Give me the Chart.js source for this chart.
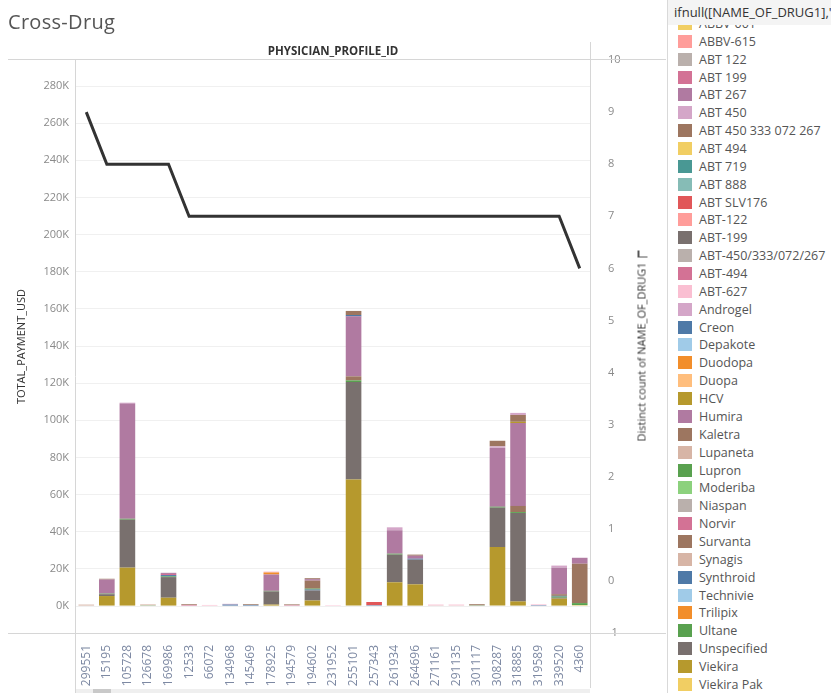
<!DOCTYPE html>
<html>
<head>
<meta charset="utf-8">
<script src="https://cdn.jsdelivr.net/npm/chart.js@4.4.0/dist/chart.umd.min.js"></script>
<style>
  body { margin: 0; background: #fff; font-family: "Open Sans", sans-serif; }
  #wrap { position: relative; width: 831px; height: 693px; overflow: hidden; }
  #title { position: absolute; left: 8px; top: 8px; font-size: 20px; color: #555; letter-spacing: 0.3px; }
  #header { position: absolute; left: 0; top: 43px; width: 666px; text-align: center;
            font-size: 11.5px; font-weight: bold; color: #333; }
  #chartBox { position: absolute; left: 0; top: 0; width: 666px; height: 693px; }
  #rightTitle { position: absolute; left: 641px; top: 346px; transform: translate(-50%, -50%) rotate(-90deg);
                white-space: nowrap; font-size: 11px; color: #333; }
  #rightTitle .ico { display: inline-block; width: 6px; height: 8px; margin-left: 5px;
                     border-top: 2px solid #555; border-left: 1px solid #555; vertical-align: middle; }
  #legend { position: absolute; left: 667px; top: 0; width: 164px; height: 693px; overflow: hidden;
            border-left: 1px solid #d9d9d9; }
  #legHead { position: absolute; left: 0; top: 0; width: 164px; height: 25px; background: #f4f4f4;
             font-size: 13px; color: #333; line-height: 25px; padding-left: 6px; z-index: 2; white-space: nowrap; }
  .item { position: absolute; left: 10px; height: 18px; font-size: 12.5px; color: #555; white-space: nowrap; }
  .sw { position: absolute; left: 0; top: 2px; width: 14px; height: 13px; }
  .lab { position: absolute; left: 21px; top: 0; line-height: 18px; }
  #track { position: absolute; left: 76px; top: 689px; width: 514px; height: 4px; background: #efefef; }
  #thumb { position: absolute; left: 93px; top: 689px; width: 18px; height: 4px; background: #c9c9c9; }
</style>
</head>
<body>
<div id="wrap">
  <div id="chartBox"><canvas id="chart"></canvas></div>
  <div id="title">Cross-Drug</div>
  <div id="header">PHYSICIAN_PROFILE_ID</div>
  <div id="rightTitle">Distinct count of NAME_OF_DRUG1<span class="ico"></span></div>
  <div id="track"></div><div id="thumb"></div>
  <div id="legend"><div id="legHead">ifnull([NAME_OF_DRUG1],'Unspecified')</div></div>
</div>
<script>
// physicians on the x axis
const physicians = ["299551", "15195", "105728", "126678", "169986", "12533", "66072", "134968",
  "145469", "178925", "194579", "194602", "231952", "255101", "257343", "261934", "264696",
  "271161", "291135", "301117", "308287", "318885", "319589", "339520", "4360"];

// line: distinct count of drugs per physician
const distinctCount = [9, 8, 8, 8, 8, 7, 7, 7, 7, 7, 7, 7, 7, 7, 7, 7, 7, 7, 7, 7, 7, 7, 7, 7, 6];

// tick labels
const paymentTicks = [0, 20000, 40000, 60000, 80000, 100000, 120000, 140000, 160000, 180000,
  200000, 220000, 240000, 260000, 280000];

// legend (color) list
const legendDrugs = ["ABBV-001", "ABBV-615", "ABT 122", "ABT 199", "ABT 267", "ABT 450",
  "ABT 450 333 072 267", "ABT 494", "ABT 719", "ABT 888", "ABT SLV176", "ABT-122", "ABT-199",
  "ABT-450/333/072/267", "ABT-494", "ABT-627", "Androgel", "Creon", "Depakote", "Duodopa", "Duopa",
  "HCV", "Humira", "Kaletra", "Lupaneta", "Lupron", "Moderiba", "Niaspan", "Norvir", "Survanta",
  "Synagis", "Synthroid", "Technivie", "Trilipix", "Ultane", "Unspecified", "Viekira", "Viekira Pak"];
const legendColors = ["#f1ce63", "#ff9d9a", "#bab0ac", "#d37295", "#b07aa1", "#d4a6c8",
  "#9d7660", "#f1ce63", "#499894", "#86bcb6", "#e15759", "#ff9d9a", "#79706e",
  "#bab0ac", "#d37295", "#fabfd2", "#d4a6c8", "#4e79a7", "#a0cbe8", "#f28e2b", "#ffbe7d",
  "#b6992d", "#b07aa1", "#9d7660", "#d7b5a6", "#59a14f", "#8cd17d", "#bab0ac", "#d37295", "#9d7660",
  "#d7b5a6", "#4e79a7", "#a0cbe8", "#f28e2b", "#59a14f", "#79706e", "#b6992d", "#f1ce63"];

// TOTAL_PAYMENT_USD per drug, one value per physician
const viekiraPak  = [0, 0, 0, 0, 0, 0, 0, 0, 0, 0, 0, 0, 0, 0, 0, 0, 0, 0, 0, 0, 0, 0, 0, 0, 500];
const viekira     = [0, 5400, 20700, 0, 4500, 0, 0, 0, 0, 800, 0, 3000, 0, 68200, 0, 12800, 11700, 0, 0, 0, 31800, 2500, 0, 4000, 0];
const unspecified = [0, 1000, 25800, 0, 11100, 0, 0, 0, 0, 7100, 0, 5400, 0, 52400, 0, 14900, 13300, 0, 0, 0, 21200, 47600, 0, 500, 0];
const ultane      = [0, 300, 500, 400, 400, 0, 0, 0, 0, 300, 0, 0, 0, 900, 0, 500, 0, 300, 0, 400, 500, 500, 0, 600, 1100];
const synthroid   = [0, 0, 0, 0, 700, 0, 0, 800, 600, 0, 0, 500, 0, 0, 500, 0, 500, 0, 0, 0, 0, 0, 500, 400, 0];
const synagis     = [800, 0, 0, 500, 0, 0, 0, 0, 0, 0, 0, 0, 0, 0, 0, 0, 0, 0, 0, 0, 0, 0, 0, 0, 0];
const survanta    = [0, 0, 0, 0, 0, 0, 0, 0, 0, 0, 0, 0, 0, 0, 0, 0, 0, 0, 0, 0, 0, 0, 0, 0, 21200];
const norvir      = [0, 0, 0, 0, 600, 600, 0, 0, 0, 0, 500, 0, 0, 0, 0, 0, 0, 0, 0, 0, 0, 0, 0, 0, 0];
const moderiba    = [0, 0, 0, 0, 0, 0, 0, 0, 0, 0, 0, 0, 0, 0, 0, 0, 0, 0, 300, 0, 0, 0, 0, 0, 0];
const lupron      = [0, 0, 0, 0, 0, 0, 0, 0, 0, 0, 0, 500, 0, 0, 0, 0, 0, 0, 0, 0, 0, 0, 0, 0, 0];
const kaletra     = [0, 0, 0, 0, 0, 400, 0, 0, 400, 0, 400, 4300, 0, 2200, 0, 0, 0, 0, 0, 600, 0, 3300, 0, 900, 0];
const humira      = [0, 7600, 62000, 0, 600, 0, 0, 0, 0, 8800, 0, 800, 0, 32300, 0, 12600, 1600, 0, 0, 0, 31800, 44600, 0, 14300, 3200];
const hcv         = [0, 0, 0, 0, 0, 0, 0, 0, 0, 0, 0, 0, 0, 0, 0, 0, 0, 0, 0, 0, 0, 700, 0, 0, 0];
const duodopa     = [0, 0, 0, 0, 0, 0, 0, 0, 0, 1100, 0, 0, 0, 0, 0, 0, 0, 0, 0, 0, 0, 0, 0, 0, 0];
const creon       = [0, 0, 0, 0, 0, 0, 0, 0, 0, 0, 0, 0, 0, 700, 0, 0, 0, 0, 0, 0, 0, 0, 0, 0, 0];
const androgel    = [0, 0, 500, 0, 0, 0, 0, 0, 0, 0, 0, 0, 0, 0, 0, 1600, 0, 0, 0, 0, 700, 0, 0, 1100, 0];
const abt627      = [0, 0, 0, 0, 0, 0, 600, 0, 0, 500, 0, 0, 500, 0, 0, 0, 0, 500, 500, 0, 0, 0, 400, 0, 0];
const abtSlv176   = [0, 0, 0, 0, 0, 0, 0, 0, 0, 0, 0, 0, 0, 0, 1700, 0, 0, 0, 0, 0, 0, 0, 0, 0, 0];
const abt450_333  = [0, 400, 0, 0, 0, 0, 0, 0, 0, 0, 0, 500, 0, 2200, 0, 0, 600, 0, 0, 0, 3000, 3700, 0, 0, 0];
const abt450      = [0, 0, 0, 0, 0, 0, 0, 400, 0, 0, 0, 0, 0, 0, 0, 0, 0, 0, 0, 0, 0, 1100, 0, 0, 0];

const seriesByDrug = {
  "Viekira Pak": viekiraPak, "Viekira": viekira, "Unspecified": unspecified, "Ultane": ultane,
  "Synthroid": synthroid, "Synagis": synagis, "Survanta": survanta, "Norvir": norvir,
  "Moderiba": moderiba, "Lupron": lupron, "Kaletra": kaletra, "Humira": humira, "HCV": hcv,
  "Duodopa": duodopa, "Creon": creon, "Androgel": androgel, "ABT-627": abt627,
  "ABT SLV176": abtSlv176, "ABT 450 333 072 267": abt450_333, "ABT 450": abt450
};

// stacks go bottom-up in reverse legend order, as in the original
const datasets = [];
for (let i = legendDrugs.length - 1; i >= 0; i--) {
  const name = legendDrugs[i];
  if (!seriesByDrug[name]) continue;
  datasets.push({
    type: 'bar', label: name, data: seriesByDrug[name], yAxisID: 'y',
    backgroundColor: legendColors[i], borderWidth: 0,
    categoryPercentage: 0.76, barPercentage: 1, stack: 'pay'
  });
}
datasets.unshift({
  type: 'line', label: 'Distinct count of NAME_OF_DRUG1', data: distinctCount, yAxisID: 'y1',
  borderColor: '#333', borderWidth: 3, pointRadius: 0, tension: 0, order: -1
});

// frame lines like the worksheet borders
const frame = {
  id: 'frame',
  afterDraw(c) {
    const { ctx, chartArea: a } = c;
    ctx.save();
    ctx.strokeStyle = '#d6d6d6';
    ctx.lineWidth = 1;
    const seg = (x1, y1, x2, y2) => { ctx.beginPath(); ctx.moveTo(x1, y1); ctx.lineTo(x2, y2); ctx.stroke(); };
    seg(8, 59.5, 666, 59.5);
    seg(Math.round(a.left) - 0.5, a.top, Math.round(a.left) - 0.5, 693);
    seg(8, Math.round(a.bottom) + 0.5, 666, Math.round(a.bottom) + 0.5);
    seg(Math.round(a.right) + 0.5, 42, Math.round(a.right) + 0.5, 688);
    ctx.restore();
  }
};

const tickFont = { family: 'Open Sans', size: 11 };

new Chart(document.getElementById('chart'), {
  data: { labels: physicians, datasets: datasets },
  plugins: [frame],
  options: {
    responsive: true,
    maintainAspectRatio: false,
    animation: false,
    layout: { padding: { top: 60, left: 0, right: 0, bottom: 0 } },
    plugins: { legend: { display: false }, tooltip: { enabled: false } },
    scales: {
      x: {
        stacked: true,
        grid: { display: false },
        border: { display: false },
        ticks: { autoSkip: false, minRotation: 90, maxRotation: 90, color: '#7d89a3',
                 font: { family: 'Open Sans', size: 12 }, padding: 4 },
        afterFit(s) { s.height = 60; }
      },
      y: {
        stacked: true,
        position: 'left',
        min: -14500,
        max: 294000,
        afterBuildTicks(s) { s.ticks = paymentTicks.map(v => ({ value: v })); },
        ticks: { callback: v => (v / 1000) + 'K', color: '#8a8a8a', font: tickFont, padding: 7 },
        grid: { color: '#f0f0f0', drawTicks: false },
        border: { display: false },
        title: { display: true, text: 'TOTAL_PAYMENT_USD', color: '#333', font: tickFont, padding: { top: 15, bottom: 0 } },
        afterFit(s) { s.width = 76; }
      },
      y1: {
        position: 'right',
        min: -1,
        max: 10,
        ticks: { stepSize: 1, color: '#8a8a8a', font: tickFont, padding: 10 },
        grid: { display: false },
        border: { display: false },
        afterFit(s) { s.width = 76; }
      }
    }
  }
});

// legend panel
const leg = document.getElementById('legend');
legendDrugs.forEach((name, i) => {
  const it = document.createElement('div');
  it.className = 'item';
  it.style.top = (15 + i * 17.86) + 'px';
  it.innerHTML = '<span class="sw" style="background:' + legendColors[i] + '"></span><span class="lab"></span>';
  it.querySelector('.lab').textContent = name;
  leg.appendChild(it);
});
</script>
</body>
</html>
